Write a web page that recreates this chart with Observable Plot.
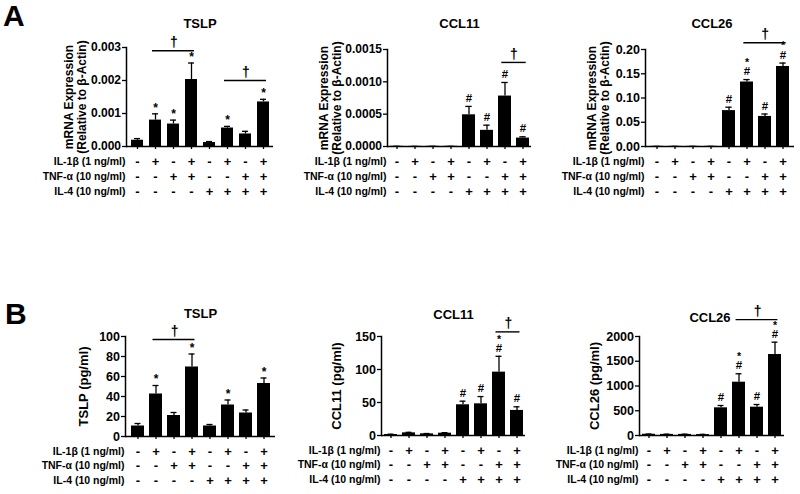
<!DOCTYPE html>
<html><head><meta charset="utf-8">
<script src="https://cdn.jsdelivr.net/npm/d3@7"></script>
<script src="https://cdn.jsdelivr.net/npm/@observablehq/plot@0.6"></script>
<style>
body{margin:0;background:#fff;}
#wrap{position:relative;width:800px;height:494px;overflow:hidden;font-family:"Liberation Sans",Arial,sans-serif;color:#000;}
.panel{position:absolute;}
.letter{position:absolute;font-weight:bold;font-size:30px;line-height:30px;}
</style></head><body><div id="wrap"></div>
<script>
// ---- data ----
const conditions = ["c1","c2","c3","c4","c5","c6","c7","c8"];
const il1Row = ["-","+","-","+","-","+","-","+"];
const tnfRow = ["-","-","+","+","-","-","+","+"];
const il4Row = ["-","-","-","-","+","+","+","+"];
const rowLabels = ["IL-1β (1 ng/ml)", "TNF-α (10 ng/ml)", "IL-4 (10 ng/ml)"];

const mrnaTSLP    = [0.00019, 0.0008, 0.00068, 0.00203, 0.00012, 0.00056, 0.00038, 0.00135];
const mrnaTSLPErr = [0.00005, 0.00019, 0.00012, 0.0005, 0.00003, 0.00005, 0.00008, 0.00008];
const mrnaCCL11    = [0.000003, 0.000002, 0.000003, 0.000003, 0.00049, 0.00025, 0.00078, 0.00013];
const mrnaCCL11Err = [0, 0, 0, 0, 0.00013, 0.00008, 0.00021, 0.00002];
const mrnaCCL26    = [0.0003, 0.0003, 0.0003, 0.0003, 0.074, 0.133, 0.062, 0.165];
const mrnaCCL26Err = [0, 0, 0, 0, 0.007, 0.005, 0.005, 0.007];
const protTSLP    = [10.5, 42.5, 21, 69.5, 10.5, 31.5, 23.5, 53];
const protTSLPErr = [2.5, 8.5, 3, 13, 1.5, 5, 3, 5.5];
const protCCL11    = [1.5, 4, 2.5, 3.5, 46.5, 48, 96, 38];
const protCCL11Err = [0.5, 0.8, 0.5, 0.8, 5.5, 11, 24, 5.5];
const protCCL26    = [25, 22, 22, 18, 559, 1077, 572, 1636];
const protCCL26Err = [5, 5, 5, 5, 47, 170, 54, 249];

// significance marks: star = vs control (*), hash = vs IL-4 alone (#)
const starsA_TSLP  = [0,1,1,1,0,1,0,1];
const hashA_TSLP   = [0,0,0,0,0,0,0,0];
const starsA_CCL11 = [0,0,0,0,0,0,0,0];
const hashA_CCL11  = [0,0,0,0,1,1,1,1];
const starsA_CCL26 = [0,0,0,0,0,1,0,1];
const hashA_CCL26  = [0,0,0,0,1,1,1,1];
const starsB_TSLP  = [0,1,0,1,0,1,0,1];
const hashB_TSLP   = [0,0,0,0,0,0,0,0];
const starsB_CCL11 = [0,0,0,0,0,0,1,0];
const hashB_CCL11  = [0,0,0,0,1,1,1,1];
const starsB_CCL26 = [0,0,0,0,0,1,0,1];
const hashB_CCL26  = [0,0,0,0,1,1,1,1];

// dagger brackets (from bar index, to bar index, height in data units)
const bracketsA_TSLP  = [{from:1, to:3, y:0.0029}, {from:5, to:7, y:0.002}];
const bracketsA_CCL11 = [{from:6, to:7, y:0.0013}];
const bracketsA_CCL26 = [{from:5, to:7, y:0.214}];
const bracketsB_TSLP  = [{from:1, to:3, y:97}];
const bracketsB_CCL11 = [{from:6, to:7, y:157}];
const bracketsB_CCL26 = [{from:5, to:7, y:2340}];

// tick values
const ticksA_TSLP  = [0, 0.001, 0.002, 0.003];
const ticksA_CCL11 = [0, 0.0005, 0.001, 0.0015];
const ticksA_CCL26 = [0, 0.05, 0.10, 0.15, 0.20];
const ticksB_TSLP  = [0, 20, 40, 60, 80, 100];
const ticksB_CCL11 = [0, 50, 100, 150];
const ticksB_CCL26 = [0, 500, 1000, 1500, 2000];

const mrnaLabel = ["mRNA Expression", "(Relative to β-Actin)"];

// ---- layout ----
const panels = [
  {title:"TSLP", values:mrnaTSLP, errors:mrnaTSLPErr, stars:starsA_TSLP, hashes:hashA_TSLP, brackets:bracketsA_TSLP,
   ticks:ticksA_TSLP, fmt:".3f", ylabel:mrnaLabel, ylabelDx:[-57,-44], ylabelSize:12, tickSize:12,
   left:0, top:0, width:280, height:200, ml:126, mr:7, mt:47, mb:54, pi:0.35, po:0.16, titleDx:0, titleDy:-29, rowDy:[15.5,30,45]},
  {title:"CCL11", values:mrnaCCL11, errors:mrnaCCL11Err, stars:starsA_CCL11, hashes:hashA_CCL11, brackets:bracketsA_CCL11,
   ticks:ticksA_CCL11, fmt:".4f", ylabel:mrnaLabel, ylabelDx:[-63,-50], ylabelSize:12, tickSize:12,
   left:270, top:0, width:270, height:200, ml:117, mr:9, mt:49, mb:54, pi:0.3, po:0.15, titleDx:0, titleDy:-31, rowDy:[15.5,30,45]},
  {title:"CCL26", values:mrnaCCL26, errors:mrnaCCL26Err, stars:starsA_CCL26, hashes:hashA_CCL26, brackets:bracketsA_CCL26,
   ticks:ticksA_CCL26, fmt:".2f", ylabel:mrnaLabel, ylabelDx:[-53,-40], ylabelSize:12, tickSize:12.5,
   left:530, top:0, width:270, height:200, ml:115, mr:6, mt:49, mb:54, pi:0.3, po:0.26, titleDx:-8, titleDy:-31, rowDy:[15.5,30,45]},
  {title:"TSLP", values:protTSLP, errors:protTSLPErr, stars:starsB_TSLP, hashes:hashB_TSLP, brackets:bracketsB_TSLP,
   ticks:ticksB_TSLP, fmt:"d", ylabel:["TSLP (pg/ml)"], ylabelDx:[-42], ylabelSize:13, tickSize:12.5,
   left:0, top:250, width:280, height:244, ml:125, mr:5, mt:86, mb:58, pi:0.3, po:0.19, titleDx:0, titleDy:-28, rowDy:[15,29.5,44.5]},
  {title:"CCL11", values:protCCL11, errors:protCCL11Err, stars:starsB_CCL11, hashes:hashB_CCL11, brackets:bracketsB_CCL11,
   ticks:ticksB_CCL11, fmt:"d", ylabel:["CCL11 (pg/ml)"], ylabelDx:[-45], ylabelSize:13, tickSize:12.5,
   left:270, top:250, width:270, height:244, ml:111, mr:15, mt:86, mb:59, pi:0.3, po:0.02, titleDx:0, titleDy:-27, rowDy:[15,29.5,44.5]},
  {title:"CCL26", values:protCCL26, errors:protCCL26Err, stars:starsB_CCL26, hashes:hashB_CCL26, brackets:bracketsB_CCL26,
   ticks:ticksB_CCL26, fmt:"d", ylabel:["CCL26 (pg/ml)"], ylabelDx:[-45], ylabelSize:13, tickSize:12.5,
   left:530, top:250, width:270, height:244, ml:109, mr:16, mt:86, mb:59, pi:0.3, po:0.03, titleDx:-2, titleDy:-24, rowDy:[15,29.5,44.5]}
];

const FONT = "'Liberation Sans', Arial, sans-serif";

function makePanel(cfg) {
  const data = cfg.values.map((v, i) => ({
    cond: conditions[i], v, e: cfg.errors[i], top: v + cfg.errors[i],
    star: cfg.stars[i], hash: cfg.hashes[i], il1: il1Row[i], tnf: tnfRow[i], il4: il4Row[i]
  }));
  const innerW = cfg.width - cfg.ml - cfg.mr;
  const step = innerW / (conditions.length - cfg.pi + 2 * cfg.po);
  const bw = step * (1 - cfg.pi);
  const capInset = Math.max(0, (bw - 6) / 2);
  const brInset = Math.max(0, bw / 2 - 3);
  const rows = [["il1", rowLabels[0]], ["tnf", rowLabels[1]], ["il4", rowLabels[2]]];
  const yMax = cfg.ticks[cfg.ticks.length - 1];

  const marks = [
    Plot.barY(data, {x: "cond", y: "v", fill: "black"}),
    Plot.ruleX(data, {x: "cond", y1: "v", y2: "top", stroke: "black", strokeWidth: 1.3}),
    Plot.tickY(data, {x: "cond", y: "top", stroke: "black", strokeWidth: 1.3, insetLeft: capInset, insetRight: capInset}),
    Plot.ruleY([0], {stroke: "black", strokeWidth: 1.5}),
    Plot.frame({anchor: "left", stroke: "black", strokeWidth: 1.5}),
    Plot.axisY({ticks: cfg.ticks, tickFormat: d3.format(cfg.fmt), tickSize: 4, tickPadding: 1.5, label: null,
      fontSize: cfg.tickSize, fontWeight: "bold", strokeWidth: 1.3}),
    Plot.axisX({tickSize: 3, tickFormat: () => "", label: null, strokeWidth: 1.3}),
    // title
    Plot.text([cfg.title], {frameAnchor: "top", text: d => d, dx: cfg.titleDx, dy: cfg.titleDy, fontSize: 13, fontWeight: "bold"}),
    // y label lines
    ...cfg.ylabel.map((line, k) => Plot.text([line], {frameAnchor: "left", textAnchor: "middle", text: d => d, rotate: -90,
      dx: cfg.ylabelDx[k], fontSize: cfg.ylabelSize, fontWeight: "bold"})),
    // condition rows
    ...rows.map(([key, label], k) => Plot.text(data, {x: "cond", y: () => 0, text: key, dy: cfg.rowDy[k], fontSize: 13, fontWeight: "bold"})),
    ...rows.map(([key, label], k) => Plot.text([label], {frameAnchor: "left", y: () => 0, text: d => d, dy: cfg.rowDy[k],
      dx: -1, textAnchor: "end", fontSize: 10.5, fontWeight: "bold"})),
    // significance marks
    Plot.text(data.filter(d => d.hash), {x: "cond", y: "top", text: () => "#", dy: -8, fontSize: 11.5, fontWeight: "bold"}),
    Plot.text(data.filter(d => d.star && !d.hash), {x: "cond", y: "top", text: () => "*", dy: -6, fontSize: 12, fontWeight: "bold"}),
    Plot.text(data.filter(d => d.star && d.hash), {x: "cond", y: "top", text: () => "*", dy: -17, fontSize: 10.5, fontWeight: "bold"}),
    // brackets
    Plot.ruleY(cfg.brackets, {x1: d => conditions[d.from], x2: d => conditions[d.to], y: "y", stroke: "black", strokeWidth: 1.4,
      insetLeft: brInset, insetRight: brInset}),
    ...cfg.brackets.map(b => Plot.text([b], {x: d => conditions[d.from], y: "y", text: () => "†",
      dx: (b.to - b.from) * step / 2, dy: -8, fontSize: 14, fontWeight: "bold"}))
  ];

  const svg = Plot.plot({
    width: cfg.width, height: cfg.height,
    marginLeft: cfg.ml, marginRight: cfg.mr, marginTop: cfg.mt, marginBottom: cfg.mb,
    x: {domain: conditions, paddingInner: cfg.pi, paddingOuter: cfg.po, axis: null},
    y: {domain: [0, yMax], axis: null},
    style: {fontFamily: FONT, color: "black", background: "transparent", overflow: "visible"},
    marks
  });
  svg.classList.add("panel");
  svg.style.position = "absolute";
  svg.style.left = cfg.left + "px";
  svg.style.top = cfg.top + "px";
  return svg;
}

const wrap = document.getElementById("wrap");
for (const cfg of panels) wrap.appendChild(makePanel(cfg));
for (const [txt, l, t] of [["A", 3, 1], ["B", 5, 299]]) {
  const div = document.createElement("div");
  div.className = "letter";
  div.textContent = txt;
  div.style.left = l + "px";
  div.style.top = t + "px";
  wrap.appendChild(div);
}
</script>
</body></html>
